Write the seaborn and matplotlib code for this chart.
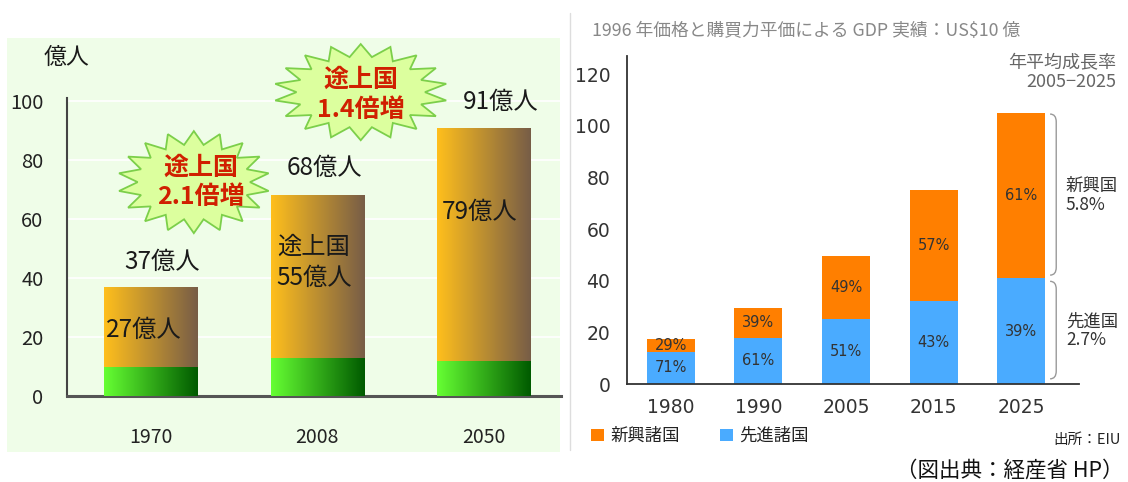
import numpy as np
import matplotlib
matplotlib.use("Agg")
import matplotlib.pyplot as plt
import seaborn as sns
from matplotlib.colors import LinearSegmentedColormap
from matplotlib.patches import Rectangle, Polygon, PathPatch, Patch
from matplotlib.path import Path
from matplotlib.lines import Line2D

# ---- World population (億人) ----
pop_years = ["1970", "2008", "2050"]
pop_total = [37, 68, 91]
pop_developing = [27, 55, 79]
pop_ticks = [0, 20, 40, 60, 80, 100]
growth_labels = ["途上国\n2.1倍増", "途上国\n1.4倍増"]

# ---- GDP, 1996 prices & PPP (US$10億) ----
gdp_years = ["1980", "1990", "2005", "2015", "2025"]
gdp_total = [17.5, 29.5, 49.5, 75, 105]
gdp_adv_share = [71, 61, 51, 43, 39]      # 先進諸国 share of total, %
gdp_ticks = [0, 20, 40, 60, 80, 100, 120]
cagr_emerging = "5.8%"
cagr_advanced = "2.7%"

pop_developed = [t - d for t, d in zip(pop_total, pop_developing)]
gdp_adv = [t * s / 100 for t, s in zip(gdp_total, gdp_adv_share)]
gdp_emg = [t - a for t, a in zip(gdp_total, gdp_adv)]
gdp_emg_share = [100 - s for s in gdp_adv_share]

sns.set_theme(style="white")
plt.rcParams["font.family"] = ["Noto Sans CJK JP", "DejaVu Sans"]
plt.rcParams["axes.unicode_minus"] = False

W, H = 1128, 482
fig = plt.figure(figsize=(W / 100, H / 100), dpi=100)
fig.patch.set_facecolor("white")


def fx(x):
    return x / W


def fy(y):
    return 1 - y / H


def add_px_axes(x0, y0, x1, y1):
    return fig.add_axes([fx(x0), fy(y1), (x1 - x0) / W, (y1 - y0) / H])


def grad_fill(ax, patch, c0, c1, z):
    x, y = patch.get_x(), patch.get_y()
    w, h = patch.get_width(), patch.get_height()
    cmap = LinearSegmentedColormap.from_list("bar", [c0, c1])
    patch.set_zorder(z - 0.5)
    img = ax.imshow(np.linspace(0, 1, 256).reshape(1, -1), cmap=cmap,
                    extent=[x, x + w, y, y + h], aspect="auto",
                    interpolation="bicubic", origin="lower", zorder=z)
    img.set_clip_path(patch)


def starburst(ax, cx, cy, rx, ry, n=18, inner=0.74):
    ang = np.linspace(0, 2 * np.pi, 2 * n, endpoint=False) + np.pi / 2
    r = np.where(np.arange(2 * n) % 2 == 0, 1.0, inner)
    pts = np.column_stack([cx + rx * r * np.cos(ang), cy + ry * r * np.sin(ang)])
    ax.add_patch(Polygon(pts, closed=True, facecolor="#dcff9e", edgecolor="#7ccf4a",
                         lw=1.3, clip_on=False, zorder=6))


def bracket(ax, x_tip, x_line, y0, y1, d):
    verts = [(x_tip, y1), (x_line, y1), (x_line, y1 - d),
             (x_line, y0 + d), (x_line, y0), (x_tip, y0)]
    codes = [Path.MOVETO, Path.CURVE3, Path.CURVE3,
             Path.LINETO, Path.CURVE3, Path.CURVE3]
    ax.add_patch(PathPatch(Path(verts, codes), facecolor="none", edgecolor="#999999",
                           lw=1.0, clip_on=False, zorder=5))


# ================= left panel: population =================
fig.add_artist(Rectangle((fx(7), fy(452)), (560 - 7) / W, (452 - 38) / H,
                         transform=fig.transFigure, facecolor="#effde8",
                         edgecolor="none", zorder=-1))

axL = add_px_axes(67, 396 - 115 * 2.95, 561, 396)
axL.set_facecolor("none")
sns.barplot(x=pop_years, y=pop_total, color="#f0a830", width=0.56, saturation=1,
            errorbar=None, linewidth=0, ax=axL)
sns.barplot(x=pop_years, y=pop_developed, color="#33cc33", width=0.56, saturation=1,
            errorbar=None, linewidth=0, ax=axL)
bars = list(axL.patches)
for p in bars[:3]:
    grad_fill(axL, p, "#ffbf1c", "#775d47", 2)
for p in bars[3:6]:
    grad_fill(axL, p, "#66ff33", "#005a00", 4)

axL.set_xlim(-0.5, 2.46)
axL.set_ylim(0, 115)
axL.set_axisbelow(True)
axL.yaxis.grid(True, color="white", lw=1.2)
for s in ("top", "right"):
    axL.spines[s].set_visible(False)
axL.spines["left"].set_bounds(0, 101)
axL.spines["left"].set_color("#444444")
axL.spines["left"].set_linewidth(1.5)
axL.spines["bottom"].set_color("#555555")
axL.spines["bottom"].set_linewidth(2.2)
axL.set_yticks(pop_ticks)
axL.tick_params(axis="y", direction="in", length=5, width=1.2, colors="#333333",
                pad=17, labelsize=14.5, labelcolor="#222222")
axL.set_xticks(range(len(pop_years)))
axL.set_xticklabels(pop_years)
axL.tick_params(axis="x", which="major", length=0, pad=22, labelsize=14,
                labelcolor="#222222")
axL.set_xticks([0.5, 1.5], minor=True)
axL.tick_params(axis="x", which="minor", direction="in", length=5, width=1.5,
                colors="#333333")
axL.set_xlabel("")
axL.set_ylabel("")

lab_kw = dict(ha="center", va="center", fontsize=17.5, color="#1a1a1a", zorder=7)
axL.text(0.07, pop_total[0] + 8.5, f"{pop_total[0]}億人", **lab_kw)
axL.text(-0.04, pop_developed[0] + pop_developing[0] * 0.46, f"{pop_developing[0]}億人", **lab_kw)
axL.text(1.04, pop_total[1] + 9.3, f"{pop_total[1]}億人", **lab_kw)
axL.text(0.98, pop_developed[1] + pop_developing[1] * 0.59, f"途上国\n{pop_developing[1]}億人",
         linespacing=1.25, **lab_kw)
axL.text(2.10, pop_total[2] + 8.7, f"{pop_total[2]}億人", **lab_kw)
axL.text(1.97, pop_developed[2] + pop_developing[2] * 0.64, f"{pop_developing[2]}億人", **lab_kw)

starburst(axL, 0.26, 72.5, 0.455, 17.3)
starburst(axL, 1.26, 103, 0.52, 16.3)
red_kw = dict(ha="center", va="center", fontsize=18, color="#d02000",
              fontweight="bold", linespacing=1.3, zorder=7)
axL.text(0.30, 72.4, growth_labels[0], **red_kw)
axL.text(1.26, 102, growth_labels[1], **red_kw)

fig.text(fx(66), fy(57), "億人", ha="center", va="center", fontsize=16.5,
         color="#1a1a1a")

# ================= right panel: GDP =================
fig.add_artist(Line2D([fx(570), fx(570)], [fy(13), fy(450)], color="#dddddd",
                      lw=1, transform=fig.transFigure))

ORANGE, BLUE = "#ff7f00", "#4aabff"
axR = add_px_axes(627, 384 - 127 * 2.583, 1079, 384)
sns.barplot(x=gdp_years, y=gdp_total, color=ORANGE, width=0.55, saturation=1,
            errorbar=None, linewidth=0, ax=axR)
sns.barplot(x=gdp_years, y=gdp_adv, color=BLUE, width=0.55, saturation=1,
            errorbar=None, linewidth=0, ax=axR)
axR.set_xlim(-0.5, 4.66)
axR.set_ylim(0, 127)
for s in ("top", "right"):
    axR.spines[s].set_visible(False)
for s in ("left", "bottom"):
    axR.spines[s].set_color("#333333")
    axR.spines[s].set_linewidth(1.3)
axR.set_yticks(gdp_ticks)
axR.tick_params(axis="y", direction="out", length=5, width=1.2, colors="#333333",
                pad=7, labelsize=13.5, labelcolor="#333333")
axR.set_xticks(range(len(gdp_years)))
axR.set_xticklabels(gdp_years)
axR.tick_params(axis="x", which="major", length=0, pad=10, labelsize=13.5,
                labelcolor="#333333")
axR.set_xticks(np.arange(-0.5, len(gdp_years), 1.0), minor=True)
axR.tick_params(axis="x", which="minor", direction="out", length=6, width=1.3,
                colors="#333333")
for lab in axR.get_xticklabels() + axR.get_yticklabels():
    lab.set_fontfamily("DejaVu Sans")
axR.set_xlabel("")
axR.set_ylabel("")

pct_kw = dict(ha="center", va="center", fontsize=10.5, color="#333333",
              family="DejaVu Sans", zorder=5)
for i in range(len(gdp_years)):
    axR.text(i, gdp_adv[i] / 2, f"{gdp_adv_share[i]}%", **pct_kw)
    axR.text(i, gdp_adv[i] + gdp_emg[i] / 2, f"{gdp_emg_share[i]}%", **pct_kw)

# growth-rate brackets beside the last bar
last = len(gdp_years) - 1
bracket(axR, 4.33, 4.40, gdp_adv[last] + 1.2, gdp_total[last] - 0.5, 3.0)
bracket(axR, 4.33, 4.40, 2.0, gdp_adv[last] - 1.2, 3.0)
side_kw = dict(ha="left", va="center", fontsize=12.5, color="#333333",
               linespacing=1.05)
axR.text(4.51, (gdp_adv[last] + gdp_total[last]) / 2, f"新興国\n{cagr_emerging}", **side_kw)
axR.text(4.51, gdp_adv[last] / 2, f"先進国\n{cagr_advanced}", **side_kw)

fig.text(fx(1116), fy(73), "年平均成長率\n2005−2025", ha="right", va="center",
         fontsize=13, color="#666666", linespacing=1.05)
fig.text(fx(592), fy(31), "1996 年価格と購買力平価による GDP 実績：US$10 億",
         ha="left", va="center", fontsize=12.8, color="#888888")

legend_handles = [Patch(facecolor=ORANGE, edgecolor="none"),
                  Patch(facecolor=BLUE, edgecolor="none")]
fig.legend(legend_handles, ["新興諸国", "先進諸国"], loc="center left",
           bbox_to_anchor=(fx(591), fy(436)), bbox_transform=fig.transFigure,
           ncol=2, frameon=False, fontsize=12.5, handlelength=0.75,
           handleheight=0.75, handletextpad=0.35, columnspacing=2.3,
           borderpad=0, borderaxespad=0, labelcolor="#222222")

fig.text(fx(1121), fy(440), "出所：EIU", ha="right", va="center", fontsize=10.5,
         color="#222222")
fig.text(fx(1124), fy(471), "（図出典：経産省 HP）", ha="right", va="center",
         fontsize=15.5, color="#111111")

fig.savefig("out.png", dpi=100)
